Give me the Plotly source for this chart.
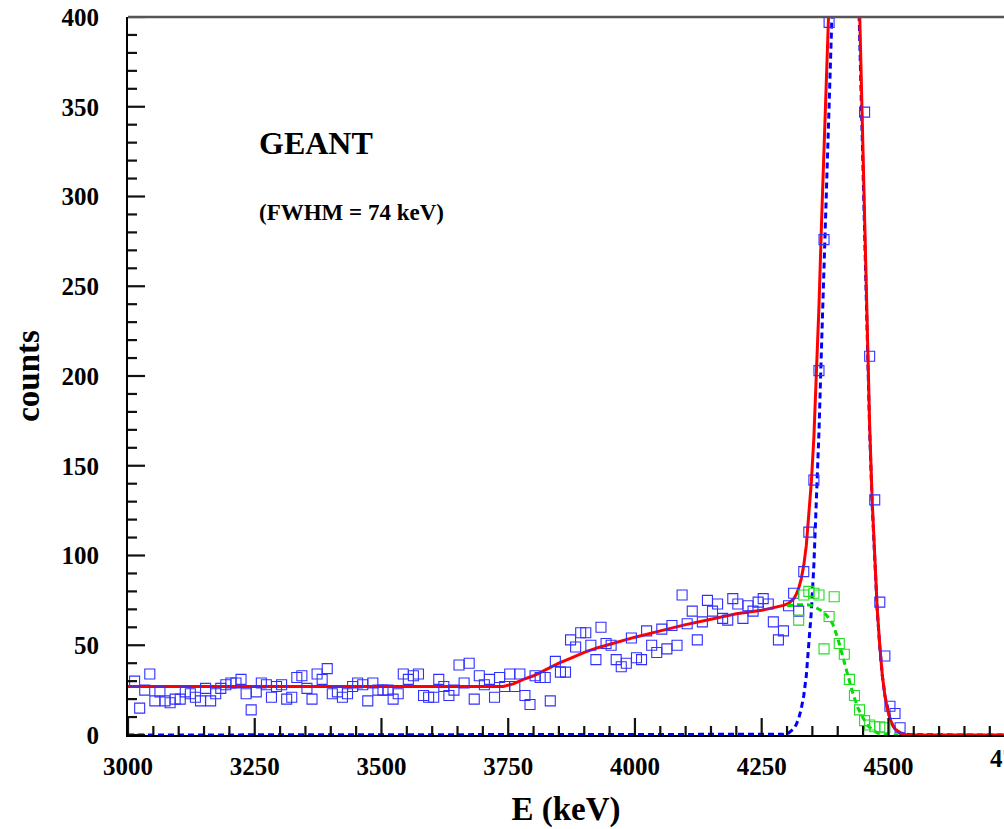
import plotly.graph_objects as go

# ---------------- data ----------------
# blue open squares: total simulated spectrum (10 keV bins)
blue_E = [3013 + 10 * i for i in range(152)]
blue_counts = [
    30, 15, 25, 34, 19, 24, 19, 18, 20, 20, 24, 23, 21, 19, 26, 19, 23, 26, 28, 29,
    29, 31, 23, 14, 24, 29, 28, 21, 27, 28, 20, 21, 32, 33, 26, 20, 34, 31, 37, 23,
    24, 21, 23, 27, 29, 28, 19, 29, 25, 25, 25, 20, 23, 34, 31, 33, 34, 22, 21, 21,
    31, 27, 22, 25, 39, 29, 40, 20, 33, 28, 31, 21, 32, 27, 34, 27, 34, 22, 17, 33,
    32, 32, 19, 41, 35, 35, 53, 49, 57, 57, 50, 42, 60, 51, 50, 42, 38, 40, 54, 43,
    42, 58, 50, 46, 59, 48, 61, 50, 78, 62, 69, 53, 63, 75, 69, 73, 65, 64, 76, 73,
    65, 72, 69, 74, 76, 73, 63, 53, 58, 72, 79, 69, 91, 113, 142, 203, 276, 397, 470, 560,
    620, 610, 540, 440, 347, 211, 131, 74, 44, 16, 12, 4,
]

# green open squares: background component
green_E = [4323, 4333, 4343, 4353, 4363, 4373, 4383, 4393, 4403, 4413,
           4423, 4433, 4443, 4453, 4463, 4473, 4483, 4493]
green_counts = [64, 78, 80, 79, 78, 48, 66, 77, 51, 45,
                31, 22, 14, 8, 5.6, 4.6, 4.6, 4]

# red solid: total fit
red_E = [3000, 3740, 3760, 3780, 3800, 3825, 3850, 3875, 3900, 3925, 3950, 3975,
         4000, 4050, 4100, 4150, 4200, 4250, 4278, 4293, 4303, 4313, 4318, 4323,
         4328, 4333, 4338, 4343, 4348, 4353, 4358, 4363, 4368, 4373, 4378, 4383,
         4388, 4393, 4398, 4403, 4408, 4413, 4418, 4423, 4428, 4433, 4438, 4443,
         4448, 4453, 4458, 4463, 4468, 4473, 4478, 4483, 4488, 4493, 4498, 4503,
         4508, 4513, 4518, 4523, 4528, 4533, 4543, 4560, 4800]
red_counts = [27, 27, 28.5, 31, 33, 36.5, 40, 43, 46, 48.5, 50.5, 52.5,
              54.5, 58, 61.5, 64.5, 67.5, 69.5, 71, 72.2, 73.3, 75.8, 78.2, 81.7,
              87, 94.5, 105.5, 121, 141, 166, 198.5, 239, 285, 337, 393.5, 451.5,
              508.5, 560.5, 602.5, 637.5, 657, 659, 644, 616, 573.5, 522, 462.5, 399.5,
              336.5, 276.5, 220.7, 172.5, 130.5, 96.6, 70, 49.6, 33.3, 22.1, 14.5, 9.2,
              5.7, 3.4, 2.2, 1.1, 0.7, 0.35, 0.1, 0, 0]

# blue dashed: full-energy peak (FWHM = 74 keV)
peak_E = [3000, 4283, 4293, 4303, 4313, 4318, 4323, 4328, 4333, 4338, 4343, 4348,
          4353, 4358, 4363, 4368, 4373, 4378, 4383, 4388, 4393, 4398, 4403, 4408,
          4413, 4418, 4423, 4428, 4433, 4438, 4443, 4448, 4453, 4458, 4463, 4468,
          4473, 4478, 4483, 4488, 4493, 4498, 4503, 4508, 4513, 4523, 4533, 4543, 4800]
peak_counts = [0, 0.1, 0.4, 1.1, 3.4, 5.7, 9.2, 14.5, 22, 33, 49, 69,
               95, 128, 169, 216, 270, 328, 388, 448, 504, 551, 589, 612,
               620, 612, 589, 551, 504, 448, 388, 328, 270, 216, 169, 128,
               95, 69, 49, 33, 22, 14.5, 9.2, 5.7, 3.4, 1.1, 0.4, 0.1, 0]

# green dashed: background fit
bg_E = [4300, 4320, 4340, 4350, 4360, 4370, 4380, 4390, 4400, 4410, 4420,
        4430, 4440, 4450, 4460, 4470, 4480, 4490, 4500, 4520]
bg_counts = [72, 72.5, 72.5, 72, 70.5, 69, 66, 62, 54, 44, 33,
             23, 15, 9.5, 5, 2.5, 1, 0.3, 0, 0]

x_ticks = [3000, 3250, 3500, 3750, 4000, 4250, 4500]
y_ticks = [0, 50, 100, 150, 200, 250, 300, 350, 400]
x_range = [3000, 4728]
cut_label = "4750"

# ---------------- figure ----------------
SERIF = "Liberation Serif"
W, H = 1004, 829
M = dict(l=128, r=0, t=17, b=94)
plot_w = W - M["l"] - M["r"]
plot_h = H - M["t"] - M["b"]
MAJOR_LEN, MINOR_LEN = 17, 9
TICK_COLOR = "#111111"

fig = go.Figure()

fig.add_trace(go.Scatter(x=peak_E, y=peak_counts, mode="lines",
                         line=dict(color="#0000ff", width=3, dash="6px,4px")))
fig.add_trace(go.Scatter(x=red_E, y=red_counts, mode="lines",
                         line=dict(color="#ff0000", width=3)))
fig.add_trace(go.Scatter(x=bg_E, y=bg_counts, mode="lines",
                         line=dict(color="#00dd00", width=3, dash="6px,4px")))
fig.add_trace(go.Scatter(x=blue_E, y=blue_counts, mode="markers",
                         marker=dict(symbol="square-open", size=10, color="#3030ff",
                                     line=dict(width=1.1, color="#3030ff"))))
fig.add_trace(go.Scatter(x=green_E, y=green_counts, mode="markers",
                         marker=dict(symbol="square-open", size=10, color="#22dd22",
                                     line=dict(width=1.1, color="#22dd22"))))

tickfont = dict(family=SERIF, size=25, color="black", weight="bold")
titlefont = dict(family=SERIF, size=33, color="black", weight="bold")

fig.update_layout(
    width=W, height=H, margin=M,
    paper_bgcolor="white", plot_bgcolor="white",
    showlegend=False,
    xaxis=dict(range=x_range, tickmode="array", tickvals=x_ticks, ticks="",
               showline=True, linecolor="black", linewidth=2, showgrid=False,
               zeroline=False, tickfont=tickfont, ticklabelstandoff=8,
               title=dict(text="E (keV)", font=titlefont, standoff=18)),
    yaxis=dict(range=[y_ticks[0], y_ticks[-1]], tickmode="array", tickvals=y_ticks,
               ticks="", showline=True, linecolor="black", linewidth=2,
               showgrid=False, zeroline=False, tickfont=tickfont,
               ticklabelstandoff=22,
               title=dict(text="counts", font=titlefont, standoff=12)),
)

# inside tick marks (major at every labelled value, four minor subdivisions)
x_step = x_ticks[1] - x_ticks[0]
y_step = y_ticks[1] - y_ticks[0]
x_minor_step = x_step // 5
y_minor_step = y_step // 5
for v in range(x_range[0], int(x_range[1]) + 1, x_minor_step):
    length = MAJOR_LEN if (v - x_ticks[0]) % x_step == 0 else MINOR_LEN
    fig.add_shape(type="line", xref="x", yref="paper", x0=v, x1=v,
                  y0=0, y1=length / plot_h, layer="above",
                  line=dict(color=TICK_COLOR, width=2.2))
for v in range(y_ticks[0], y_ticks[-1] + 1, y_minor_step):
    length = MAJOR_LEN if (v - y_ticks[0]) % y_step == 0 else MINOR_LEN
    fig.add_shape(type="line", xref="paper", yref="y", x0=0, x1=length / plot_w,
                  y0=v, y1=v, layer="above",
                  line=dict(color=TICK_COLOR, width=2.2))

# top frame line
fig.add_shape(type="line", xref="paper", yref="paper", x0=0, x1=1, y0=1, y1=1,
              line=dict(color="#555555", width=2.5))

fig.add_annotation(x=3254, y=330, xref="x", yref="y", text="GEANT", showarrow=False,
                   xanchor="left", yanchor="middle",
                   font=dict(family=SERIF, size=32, color="black", weight="bold"))
fig.add_annotation(x=3254, y=291, xref="x", yref="y", text="(FWHM = 74 keV)",
                   showarrow=False, xanchor="left", yanchor="middle",
                   font=dict(family=SERIF, size=23, color="black", weight="bold"))

# partly cut tick label at the right edge (the reference is cropped there)
fig.add_annotation(x=(4750 - x_range[0]) / (x_range[1] - x_range[0]), y=0,
                   xref="paper", yref="paper", text=cut_label, showarrow=False,
                   xanchor="center", yanchor="top", yshift=-8, font=tickfont)

fig.write_html("out.html")
